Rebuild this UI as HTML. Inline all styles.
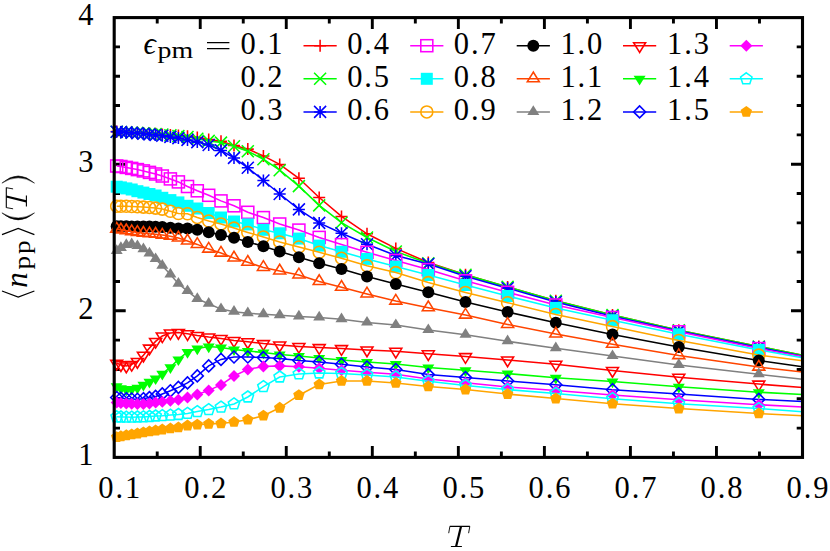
<!DOCTYPE html>
<html><head><meta charset="utf-8"><title>chart</title>
<style>html,body{margin:0;padding:0;background:#fff;}body{width:830px;height:551px;overflow:hidden;position:relative;font-family:"Liberation Serif",serif;}</style>
</head><body>
<svg width="830" height="551" viewBox="0 0 830 551" style="position:absolute;left:0;top:0;font-family:'Liberation Serif',serif">
<rect width="830" height="551" fill="#fff"/>
<defs><clipPath id="cp"><rect x="114.2" y="17.6" width="688.3" height="439.79999999999995"/></clipPath></defs>
<path d="M157.22 457.4v-5.8M157.22 17.6v5.8M200.24 457.4v-11.5M200.24 17.6v11.5M243.26 457.4v-5.8M243.26 17.6v5.8M286.27 457.4v-11.5M286.27 17.6v11.5M329.29 457.4v-5.8M329.29 17.6v5.8M372.31 457.4v-11.5M372.31 17.6v11.5M415.33 457.4v-5.8M415.33 17.6v5.8M458.35 457.4v-11.5M458.35 17.6v11.5M501.37 457.4v-5.8M501.37 17.6v5.8M544.39 457.4v-11.5M544.39 17.6v11.5M587.41 457.4v-5.8M587.41 17.6v5.8M630.42 457.4v-11.5M630.42 17.6v11.5M673.44 457.4v-5.8M673.44 17.6v5.8M716.46 457.4v-11.5M716.46 17.6v11.5M759.48 457.4v-5.8M759.48 17.6v5.8M114.2 428.08h5.8M802.5 428.08h-5.8M114.2 398.76h5.8M802.5 398.76h-5.8M114.2 369.44h5.8M802.5 369.44h-5.8M114.2 340.12h5.8M802.5 340.12h-5.8M114.2 310.8h11.5M802.5 310.8h-11.5M114.2 281.48h5.8M802.5 281.48h-5.8M114.2 252.16h5.8M802.5 252.16h-5.8M114.2 222.84h5.8M802.5 222.84h-5.8M114.2 193.52h5.8M802.5 193.52h-5.8M114.2 164.2h11.5M802.5 164.2h-11.5M114.2 134.88h5.8M802.5 134.88h-5.8M114.2 105.56h5.8M802.5 105.56h-5.8M114.2 76.24h5.8M802.5 76.24h-5.8M114.2 46.92h5.8M802.5 46.92h-5.8" stroke="#000" stroke-width="2.9" fill="none"/>
<g><polyline points="116.7,131.6 120.9,131.9 126.3,132.2 131.7,132.5 137.4,132.8 143.4,133.1 149.45,133.4 155.6,133.7 162.3,134.4 170.4,135 178.4,135.5 187.5,136.2 197.3,137.4 208.7,139.4 221,141.3 234,145.4 247.8,149.1 263.4,155.9 279.7,164.4 298.9,178.3 319.2,197.5 341.5,216.4 367,233.8 395.8,248.4 428.3,262.5 465.5,274.8 507.6,286.9 555.8,300.7 612.5,315 678.8,330.2 758.8,346.5 802.5,355.3" fill="none" stroke="#ff0000" stroke-width="1.55" clip-path="url(#cp)"/>
<path d="M110.7 131.6H122.7M116.7 125.6V137.6" stroke="#ff0000" stroke-width="1.55" fill="none"/>
<path d="M114.9 131.9H126.9M120.9 125.9V137.9" stroke="#ff0000" stroke-width="1.55" fill="none"/>
<path d="M120.3 132.2H132.3M126.3 126.2V138.2" stroke="#ff0000" stroke-width="1.55" fill="none"/>
<path d="M125.7 132.5H137.7M131.7 126.5V138.5" stroke="#ff0000" stroke-width="1.55" fill="none"/>
<path d="M131.4 132.8H143.4M137.4 126.8V138.8" stroke="#ff0000" stroke-width="1.55" fill="none"/>
<path d="M137.4 133.1H149.4M143.4 127.1V139.1" stroke="#ff0000" stroke-width="1.55" fill="none"/>
<path d="M143.45 133.4H155.45M149.45 127.4V139.4" stroke="#ff0000" stroke-width="1.55" fill="none"/>
<path d="M149.6 133.7H161.6M155.6 127.7V139.7" stroke="#ff0000" stroke-width="1.55" fill="none"/>
<path d="M156.3 134.4H168.3M162.3 128.4V140.4" stroke="#ff0000" stroke-width="1.55" fill="none"/>
<path d="M164.4 135H176.4M170.4 129V141" stroke="#ff0000" stroke-width="1.55" fill="none"/>
<path d="M172.4 135.5H184.4M178.4 129.5V141.5" stroke="#ff0000" stroke-width="1.55" fill="none"/>
<path d="M181.5 136.2H193.5M187.5 130.2V142.2" stroke="#ff0000" stroke-width="1.55" fill="none"/>
<path d="M191.3 137.4H203.3M197.3 131.4V143.4" stroke="#ff0000" stroke-width="1.55" fill="none"/>
<path d="M202.7 139.4H214.7M208.7 133.4V145.4" stroke="#ff0000" stroke-width="1.55" fill="none"/>
<path d="M215 141.3H227M221 135.3V147.3" stroke="#ff0000" stroke-width="1.55" fill="none"/>
<path d="M228 145.4H240M234 139.4V151.4" stroke="#ff0000" stroke-width="1.55" fill="none"/>
<path d="M241.8 149.1H253.8M247.8 143.1V155.1" stroke="#ff0000" stroke-width="1.55" fill="none"/>
<path d="M257.4 155.9H269.4M263.4 149.9V161.9" stroke="#ff0000" stroke-width="1.55" fill="none"/>
<path d="M273.7 164.4H285.7M279.7 158.4V170.4" stroke="#ff0000" stroke-width="1.55" fill="none"/>
<path d="M292.9 178.3H304.9M298.9 172.3V184.3" stroke="#ff0000" stroke-width="1.55" fill="none"/>
<path d="M313.2 197.5H325.2M319.2 191.5V203.5" stroke="#ff0000" stroke-width="1.55" fill="none"/>
<path d="M335.5 216.4H347.5M341.5 210.4V222.4" stroke="#ff0000" stroke-width="1.55" fill="none"/>
<path d="M361 233.8H373M367 227.8V239.8" stroke="#ff0000" stroke-width="1.55" fill="none"/>
<path d="M389.8 248.4H401.8M395.8 242.4V254.4" stroke="#ff0000" stroke-width="1.55" fill="none"/>
<path d="M422.3 262.5H434.3M428.3 256.5V268.5" stroke="#ff0000" stroke-width="1.55" fill="none"/>
<path d="M459.5 274.8H471.5M465.5 268.8V280.8" stroke="#ff0000" stroke-width="1.55" fill="none"/>
<path d="M501.6 286.9H513.6M507.6 280.9V292.9" stroke="#ff0000" stroke-width="1.55" fill="none"/>
<path d="M549.8 300.7H561.8M555.8 294.7V306.7" stroke="#ff0000" stroke-width="1.55" fill="none"/>
<path d="M606.5 315H618.5M612.5 309V321" stroke="#ff0000" stroke-width="1.55" fill="none"/>
<path d="M672.8 330.2H684.8M678.8 324.2V336.2" stroke="#ff0000" stroke-width="1.55" fill="none"/>
<path d="M752.8 346.5H764.8M758.8 340.5V352.5" stroke="#ff0000" stroke-width="1.55" fill="none"/>
</g>
<g><polyline points="116.7,131.7 120.9,132 126.3,132.3 131.7,132.6 137.4,132.9 143.4,133.3 149.45,133.7 155.6,134 162.3,134.5 170.4,135.3 178.4,136.1 187.5,137 197.3,138.8 208.7,140.9 221,142.6 234,146.2 247.8,151.3 263.4,159.2 279.7,170.2 298.9,186.1 319.2,205.4 341.5,222.7 367,237.5 395.8,251.5 428.3,263.3 465.5,274.8 507.6,286.9 555.8,300.7 612.5,315 678.8,330.2 758.8,346.5 802.5,355.3" fill="none" stroke="#00ff00" stroke-width="1.55" clip-path="url(#cp)"/>
<path d="M110.7 125.7L122.7 137.7M110.7 137.7L122.7 125.7" stroke="#00ff00" stroke-width="1.55" fill="none"/>
<path d="M114.9 126L126.9 138M114.9 138L126.9 126" stroke="#00ff00" stroke-width="1.55" fill="none"/>
<path d="M120.3 126.3L132.3 138.3M120.3 138.3L132.3 126.3" stroke="#00ff00" stroke-width="1.55" fill="none"/>
<path d="M125.7 126.6L137.7 138.6M125.7 138.6L137.7 126.6" stroke="#00ff00" stroke-width="1.55" fill="none"/>
<path d="M131.4 126.9L143.4 138.9M131.4 138.9L143.4 126.9" stroke="#00ff00" stroke-width="1.55" fill="none"/>
<path d="M137.4 127.3L149.4 139.3M137.4 139.3L149.4 127.3" stroke="#00ff00" stroke-width="1.55" fill="none"/>
<path d="M143.45 127.7L155.45 139.7M143.45 139.7L155.45 127.7" stroke="#00ff00" stroke-width="1.55" fill="none"/>
<path d="M149.6 128L161.6 140M149.6 140L161.6 128" stroke="#00ff00" stroke-width="1.55" fill="none"/>
<path d="M156.3 128.5L168.3 140.5M156.3 140.5L168.3 128.5" stroke="#00ff00" stroke-width="1.55" fill="none"/>
<path d="M164.4 129.3L176.4 141.3M164.4 141.3L176.4 129.3" stroke="#00ff00" stroke-width="1.55" fill="none"/>
<path d="M172.4 130.1L184.4 142.1M172.4 142.1L184.4 130.1" stroke="#00ff00" stroke-width="1.55" fill="none"/>
<path d="M181.5 131L193.5 143M181.5 143L193.5 131" stroke="#00ff00" stroke-width="1.55" fill="none"/>
<path d="M191.3 132.8L203.3 144.8M191.3 144.8L203.3 132.8" stroke="#00ff00" stroke-width="1.55" fill="none"/>
<path d="M202.7 134.9L214.7 146.9M202.7 146.9L214.7 134.9" stroke="#00ff00" stroke-width="1.55" fill="none"/>
<path d="M215 136.6L227 148.6M215 148.6L227 136.6" stroke="#00ff00" stroke-width="1.55" fill="none"/>
<path d="M228 140.2L240 152.2M228 152.2L240 140.2" stroke="#00ff00" stroke-width="1.55" fill="none"/>
<path d="M241.8 145.3L253.8 157.3M241.8 157.3L253.8 145.3" stroke="#00ff00" stroke-width="1.55" fill="none"/>
<path d="M257.4 153.2L269.4 165.2M257.4 165.2L269.4 153.2" stroke="#00ff00" stroke-width="1.55" fill="none"/>
<path d="M273.7 164.2L285.7 176.2M273.7 176.2L285.7 164.2" stroke="#00ff00" stroke-width="1.55" fill="none"/>
<path d="M292.9 180.1L304.9 192.1M292.9 192.1L304.9 180.1" stroke="#00ff00" stroke-width="1.55" fill="none"/>
<path d="M313.2 199.4L325.2 211.4M313.2 211.4L325.2 199.4" stroke="#00ff00" stroke-width="1.55" fill="none"/>
<path d="M335.5 216.7L347.5 228.7M335.5 228.7L347.5 216.7" stroke="#00ff00" stroke-width="1.55" fill="none"/>
<path d="M361 231.5L373 243.5M361 243.5L373 231.5" stroke="#00ff00" stroke-width="1.55" fill="none"/>
<path d="M389.8 245.5L401.8 257.5M389.8 257.5L401.8 245.5" stroke="#00ff00" stroke-width="1.55" fill="none"/>
<path d="M422.3 257.3L434.3 269.3M422.3 269.3L434.3 257.3" stroke="#00ff00" stroke-width="1.55" fill="none"/>
<path d="M459.5 268.8L471.5 280.8M459.5 280.8L471.5 268.8" stroke="#00ff00" stroke-width="1.55" fill="none"/>
<path d="M501.6 280.9L513.6 292.9M501.6 292.9L513.6 280.9" stroke="#00ff00" stroke-width="1.55" fill="none"/>
<path d="M549.8 294.7L561.8 306.7M549.8 306.7L561.8 294.7" stroke="#00ff00" stroke-width="1.55" fill="none"/>
<path d="M606.5 309L618.5 321M606.5 321L618.5 309" stroke="#00ff00" stroke-width="1.55" fill="none"/>
<path d="M672.8 324.2L684.8 336.2M672.8 336.2L684.8 324.2" stroke="#00ff00" stroke-width="1.55" fill="none"/>
<path d="M752.8 340.5L764.8 352.5M752.8 352.5L764.8 340.5" stroke="#00ff00" stroke-width="1.55" fill="none"/>
</g>
<g><polyline points="116.7,131.8 120.9,132 126.3,132.4 131.7,132.8 137.4,133.3 143.4,133.8 149.45,134.4 155.6,135 162.3,135.8 170.4,136.9 178.4,138.1 187.5,139.9 197.3,142.1 208.7,145 221,150.4 234,157.9 247.8,167.8 263.4,180.5 279.7,194 298.9,209.4 319.2,222.9 341.5,233.3 367,244.2 395.8,255.5 428.3,264 465.5,276.2 507.6,288.2 555.8,302 612.5,316.2 678.8,331.1 758.8,347.4 802.5,356.2" fill="none" stroke="#0000ff" stroke-width="1.55" clip-path="url(#cp)"/>
<path d="M110.7 131.8H122.7M116.7 125.8V137.8M110.7 125.8L122.7 137.8M110.7 137.8L122.7 125.8" stroke="#0000ff" stroke-width="1.55" fill="none"/>
<path d="M114.9 132H126.9M120.9 126V138M114.9 126L126.9 138M114.9 138L126.9 126" stroke="#0000ff" stroke-width="1.55" fill="none"/>
<path d="M120.3 132.4H132.3M126.3 126.4V138.4M120.3 126.4L132.3 138.4M120.3 138.4L132.3 126.4" stroke="#0000ff" stroke-width="1.55" fill="none"/>
<path d="M125.7 132.8H137.7M131.7 126.8V138.8M125.7 126.8L137.7 138.8M125.7 138.8L137.7 126.8" stroke="#0000ff" stroke-width="1.55" fill="none"/>
<path d="M131.4 133.3H143.4M137.4 127.3V139.3M131.4 127.3L143.4 139.3M131.4 139.3L143.4 127.3" stroke="#0000ff" stroke-width="1.55" fill="none"/>
<path d="M137.4 133.8H149.4M143.4 127.8V139.8M137.4 127.8L149.4 139.8M137.4 139.8L149.4 127.8" stroke="#0000ff" stroke-width="1.55" fill="none"/>
<path d="M143.45 134.4H155.45M149.45 128.4V140.4M143.45 128.4L155.45 140.4M143.45 140.4L155.45 128.4" stroke="#0000ff" stroke-width="1.55" fill="none"/>
<path d="M149.6 135H161.6M155.6 129V141M149.6 129L161.6 141M149.6 141L161.6 129" stroke="#0000ff" stroke-width="1.55" fill="none"/>
<path d="M156.3 135.8H168.3M162.3 129.8V141.8M156.3 129.8L168.3 141.8M156.3 141.8L168.3 129.8" stroke="#0000ff" stroke-width="1.55" fill="none"/>
<path d="M164.4 136.9H176.4M170.4 130.9V142.9M164.4 130.9L176.4 142.9M164.4 142.9L176.4 130.9" stroke="#0000ff" stroke-width="1.55" fill="none"/>
<path d="M172.4 138.1H184.4M178.4 132.1V144.1M172.4 132.1L184.4 144.1M172.4 144.1L184.4 132.1" stroke="#0000ff" stroke-width="1.55" fill="none"/>
<path d="M181.5 139.9H193.5M187.5 133.9V145.9M181.5 133.9L193.5 145.9M181.5 145.9L193.5 133.9" stroke="#0000ff" stroke-width="1.55" fill="none"/>
<path d="M191.3 142.1H203.3M197.3 136.1V148.1M191.3 136.1L203.3 148.1M191.3 148.1L203.3 136.1" stroke="#0000ff" stroke-width="1.55" fill="none"/>
<path d="M202.7 145H214.7M208.7 139V151M202.7 139L214.7 151M202.7 151L214.7 139" stroke="#0000ff" stroke-width="1.55" fill="none"/>
<path d="M215 150.4H227M221 144.4V156.4M215 144.4L227 156.4M215 156.4L227 144.4" stroke="#0000ff" stroke-width="1.55" fill="none"/>
<path d="M228 157.9H240M234 151.9V163.9M228 151.9L240 163.9M228 163.9L240 151.9" stroke="#0000ff" stroke-width="1.55" fill="none"/>
<path d="M241.8 167.8H253.8M247.8 161.8V173.8M241.8 161.8L253.8 173.8M241.8 173.8L253.8 161.8" stroke="#0000ff" stroke-width="1.55" fill="none"/>
<path d="M257.4 180.5H269.4M263.4 174.5V186.5M257.4 174.5L269.4 186.5M257.4 186.5L269.4 174.5" stroke="#0000ff" stroke-width="1.55" fill="none"/>
<path d="M273.7 194H285.7M279.7 188V200M273.7 188L285.7 200M273.7 200L285.7 188" stroke="#0000ff" stroke-width="1.55" fill="none"/>
<path d="M292.9 209.4H304.9M298.9 203.4V215.4M292.9 203.4L304.9 215.4M292.9 215.4L304.9 203.4" stroke="#0000ff" stroke-width="1.55" fill="none"/>
<path d="M313.2 222.9H325.2M319.2 216.9V228.9M313.2 216.9L325.2 228.9M313.2 228.9L325.2 216.9" stroke="#0000ff" stroke-width="1.55" fill="none"/>
<path d="M335.5 233.3H347.5M341.5 227.3V239.3M335.5 227.3L347.5 239.3M335.5 239.3L347.5 227.3" stroke="#0000ff" stroke-width="1.55" fill="none"/>
<path d="M361 244.2H373M367 238.2V250.2M361 238.2L373 250.2M361 250.2L373 238.2" stroke="#0000ff" stroke-width="1.55" fill="none"/>
<path d="M389.8 255.5H401.8M395.8 249.5V261.5M389.8 249.5L401.8 261.5M389.8 261.5L401.8 249.5" stroke="#0000ff" stroke-width="1.55" fill="none"/>
<path d="M422.3 264H434.3M428.3 258V270M422.3 258L434.3 270M422.3 270L434.3 258" stroke="#0000ff" stroke-width="1.55" fill="none"/>
<path d="M459.5 276.2H471.5M465.5 270.2V282.2M459.5 270.2L471.5 282.2M459.5 282.2L471.5 270.2" stroke="#0000ff" stroke-width="1.55" fill="none"/>
<path d="M501.6 288.2H513.6M507.6 282.2V294.2M501.6 282.2L513.6 294.2M501.6 294.2L513.6 282.2" stroke="#0000ff" stroke-width="1.55" fill="none"/>
<path d="M549.8 302H561.8M555.8 296V308M549.8 296L561.8 308M549.8 308L561.8 296" stroke="#0000ff" stroke-width="1.55" fill="none"/>
<path d="M606.5 316.2H618.5M612.5 310.2V322.2M606.5 310.2L618.5 322.2M606.5 322.2L618.5 310.2" stroke="#0000ff" stroke-width="1.55" fill="none"/>
<path d="M672.8 331.1H684.8M678.8 325.1V337.1M672.8 325.1L684.8 337.1M672.8 337.1L684.8 325.1" stroke="#0000ff" stroke-width="1.55" fill="none"/>
<path d="M752.8 347.4H764.8M758.8 341.4V353.4M752.8 341.4L764.8 353.4M752.8 353.4L764.8 341.4" stroke="#0000ff" stroke-width="1.55" fill="none"/>
</g>
<g><polyline points="116.7,166 120.9,166.5 126.3,167.4 131.7,168.4 137.4,169.6 143.4,170.9 149.45,172.4 155.6,174 162.3,176 170.4,178.9 178.4,181.9 187.5,186.5 197.3,190.8 208.7,195.3 221,200.9 234,205.8 247.8,212.3 263.4,217.6 279.7,224 298.9,230.1 319.2,237.4 341.5,244.6 367,252.3 395.8,260.5 428.3,269.6 465.5,280.8 507.6,292.3 555.8,305 612.5,317.5 678.8,331.8 758.8,348.6 802.5,356.6" fill="none" stroke="#ff00ff" stroke-width="1.55" clip-path="url(#cp)"/>
<rect x="110.7" y="160" width="12" height="12" fill="none" stroke="#ff00ff" stroke-width="1.55"/>
<rect x="114.9" y="160.5" width="12" height="12" fill="none" stroke="#ff00ff" stroke-width="1.55"/>
<rect x="120.3" y="161.4" width="12" height="12" fill="none" stroke="#ff00ff" stroke-width="1.55"/>
<rect x="125.7" y="162.4" width="12" height="12" fill="none" stroke="#ff00ff" stroke-width="1.55"/>
<rect x="131.4" y="163.6" width="12" height="12" fill="none" stroke="#ff00ff" stroke-width="1.55"/>
<rect x="137.4" y="164.9" width="12" height="12" fill="none" stroke="#ff00ff" stroke-width="1.55"/>
<rect x="143.45" y="166.4" width="12" height="12" fill="none" stroke="#ff00ff" stroke-width="1.55"/>
<rect x="149.6" y="168" width="12" height="12" fill="none" stroke="#ff00ff" stroke-width="1.55"/>
<rect x="156.3" y="170" width="12" height="12" fill="none" stroke="#ff00ff" stroke-width="1.55"/>
<rect x="164.4" y="172.9" width="12" height="12" fill="none" stroke="#ff00ff" stroke-width="1.55"/>
<rect x="172.4" y="175.9" width="12" height="12" fill="none" stroke="#ff00ff" stroke-width="1.55"/>
<rect x="181.5" y="180.5" width="12" height="12" fill="none" stroke="#ff00ff" stroke-width="1.55"/>
<rect x="191.3" y="184.8" width="12" height="12" fill="none" stroke="#ff00ff" stroke-width="1.55"/>
<rect x="202.7" y="189.3" width="12" height="12" fill="none" stroke="#ff00ff" stroke-width="1.55"/>
<rect x="215" y="194.9" width="12" height="12" fill="none" stroke="#ff00ff" stroke-width="1.55"/>
<rect x="228" y="199.8" width="12" height="12" fill="none" stroke="#ff00ff" stroke-width="1.55"/>
<rect x="241.8" y="206.3" width="12" height="12" fill="none" stroke="#ff00ff" stroke-width="1.55"/>
<rect x="257.4" y="211.6" width="12" height="12" fill="none" stroke="#ff00ff" stroke-width="1.55"/>
<rect x="273.7" y="218" width="12" height="12" fill="none" stroke="#ff00ff" stroke-width="1.55"/>
<rect x="292.9" y="224.1" width="12" height="12" fill="none" stroke="#ff00ff" stroke-width="1.55"/>
<rect x="313.2" y="231.4" width="12" height="12" fill="none" stroke="#ff00ff" stroke-width="1.55"/>
<rect x="335.5" y="238.6" width="12" height="12" fill="none" stroke="#ff00ff" stroke-width="1.55"/>
<rect x="361" y="246.3" width="12" height="12" fill="none" stroke="#ff00ff" stroke-width="1.55"/>
<rect x="389.8" y="254.5" width="12" height="12" fill="none" stroke="#ff00ff" stroke-width="1.55"/>
<rect x="422.3" y="263.6" width="12" height="12" fill="none" stroke="#ff00ff" stroke-width="1.55"/>
<rect x="459.5" y="274.8" width="12" height="12" fill="none" stroke="#ff00ff" stroke-width="1.55"/>
<rect x="501.6" y="286.3" width="12" height="12" fill="none" stroke="#ff00ff" stroke-width="1.55"/>
<rect x="549.8" y="299" width="12" height="12" fill="none" stroke="#ff00ff" stroke-width="1.55"/>
<rect x="606.5" y="311.5" width="12" height="12" fill="none" stroke="#ff00ff" stroke-width="1.55"/>
<rect x="672.8" y="325.8" width="12" height="12" fill="none" stroke="#ff00ff" stroke-width="1.55"/>
<rect x="752.8" y="342.6" width="12" height="12" fill="none" stroke="#ff00ff" stroke-width="1.55"/>
</g>
<g><polyline points="116.7,186.7 120.9,187.4 126.3,188.4 131.7,189.5 137.4,191.2 143.4,192.6 149.45,194 155.6,195.5 162.3,197.8 170.4,200.1 178.4,202.4 187.5,205.8 197.3,208.5 208.7,213 221,217.5 234,221.5 247.8,224.4 263.4,229.8 279.7,233.3 298.9,238.6 319.2,245.6 341.5,251.8 367,258.9 395.8,266.6 428.3,275 465.5,285 507.6,296 555.8,307.9 612.5,320.2 678.8,334.3 758.8,350 802.5,357.8" fill="none" stroke="#00ffff" stroke-width="1.55" clip-path="url(#cp)"/>
<rect x="110.7" y="180.7" width="12" height="12" fill="#00ffff" />
<rect x="114.9" y="181.4" width="12" height="12" fill="#00ffff" />
<rect x="120.3" y="182.4" width="12" height="12" fill="#00ffff" />
<rect x="125.7" y="183.5" width="12" height="12" fill="#00ffff" />
<rect x="131.4" y="185.2" width="12" height="12" fill="#00ffff" />
<rect x="137.4" y="186.6" width="12" height="12" fill="#00ffff" />
<rect x="143.45" y="188" width="12" height="12" fill="#00ffff" />
<rect x="149.6" y="189.5" width="12" height="12" fill="#00ffff" />
<rect x="156.3" y="191.8" width="12" height="12" fill="#00ffff" />
<rect x="164.4" y="194.1" width="12" height="12" fill="#00ffff" />
<rect x="172.4" y="196.4" width="12" height="12" fill="#00ffff" />
<rect x="181.5" y="199.8" width="12" height="12" fill="#00ffff" />
<rect x="191.3" y="202.5" width="12" height="12" fill="#00ffff" />
<rect x="202.7" y="207" width="12" height="12" fill="#00ffff" />
<rect x="215" y="211.5" width="12" height="12" fill="#00ffff" />
<rect x="228" y="215.5" width="12" height="12" fill="#00ffff" />
<rect x="241.8" y="218.4" width="12" height="12" fill="#00ffff" />
<rect x="257.4" y="223.8" width="12" height="12" fill="#00ffff" />
<rect x="273.7" y="227.3" width="12" height="12" fill="#00ffff" />
<rect x="292.9" y="232.6" width="12" height="12" fill="#00ffff" />
<rect x="313.2" y="239.6" width="12" height="12" fill="#00ffff" />
<rect x="335.5" y="245.8" width="12" height="12" fill="#00ffff" />
<rect x="361" y="252.9" width="12" height="12" fill="#00ffff" />
<rect x="389.8" y="260.6" width="12" height="12" fill="#00ffff" />
<rect x="422.3" y="269" width="12" height="12" fill="#00ffff" />
<rect x="459.5" y="279" width="12" height="12" fill="#00ffff" />
<rect x="501.6" y="290" width="12" height="12" fill="#00ffff" />
<rect x="549.8" y="301.9" width="12" height="12" fill="#00ffff" />
<rect x="606.5" y="314.2" width="12" height="12" fill="#00ffff" />
<rect x="672.8" y="328.3" width="12" height="12" fill="#00ffff" />
<rect x="752.8" y="344" width="12" height="12" fill="#00ffff" />
</g>
<g><polyline points="116.7,206.2 120.9,206.2 126.3,206.3 131.7,206.5 137.4,206.8 143.4,207.1 149.45,207.4 155.6,208.1 162.3,209.1 170.4,211.3 178.4,213.5 187.5,213.7 197.3,217.4 208.7,221 221,223.9 234,228.1 247.8,232.4 263.4,236.9 279.7,241.9 298.9,247 319.2,252.3 341.5,258.3 367,265.8 395.8,272.6 428.3,282.6 465.5,292.4 507.6,302.7 555.8,314.4 612.5,326.6 678.8,340.4 758.8,355.1 802.5,360.8" fill="none" stroke="#ffa500" stroke-width="1.55" clip-path="url(#cp)"/>
<circle cx="116.7" cy="206.2" r="6" fill="none" stroke="#ffa500" stroke-width="1.55"/>
<circle cx="120.9" cy="206.2" r="6" fill="none" stroke="#ffa500" stroke-width="1.55"/>
<circle cx="126.3" cy="206.3" r="6" fill="none" stroke="#ffa500" stroke-width="1.55"/>
<circle cx="131.7" cy="206.5" r="6" fill="none" stroke="#ffa500" stroke-width="1.55"/>
<circle cx="137.4" cy="206.8" r="6" fill="none" stroke="#ffa500" stroke-width="1.55"/>
<circle cx="143.4" cy="207.1" r="6" fill="none" stroke="#ffa500" stroke-width="1.55"/>
<circle cx="149.45" cy="207.4" r="6" fill="none" stroke="#ffa500" stroke-width="1.55"/>
<circle cx="155.6" cy="208.1" r="6" fill="none" stroke="#ffa500" stroke-width="1.55"/>
<circle cx="162.3" cy="209.1" r="6" fill="none" stroke="#ffa500" stroke-width="1.55"/>
<circle cx="170.4" cy="211.3" r="6" fill="none" stroke="#ffa500" stroke-width="1.55"/>
<circle cx="178.4" cy="213.5" r="6" fill="none" stroke="#ffa500" stroke-width="1.55"/>
<circle cx="187.5" cy="213.7" r="6" fill="none" stroke="#ffa500" stroke-width="1.55"/>
<circle cx="197.3" cy="217.4" r="6" fill="none" stroke="#ffa500" stroke-width="1.55"/>
<circle cx="208.7" cy="221" r="6" fill="none" stroke="#ffa500" stroke-width="1.55"/>
<circle cx="221" cy="223.9" r="6" fill="none" stroke="#ffa500" stroke-width="1.55"/>
<circle cx="234" cy="228.1" r="6" fill="none" stroke="#ffa500" stroke-width="1.55"/>
<circle cx="247.8" cy="232.4" r="6" fill="none" stroke="#ffa500" stroke-width="1.55"/>
<circle cx="263.4" cy="236.9" r="6" fill="none" stroke="#ffa500" stroke-width="1.55"/>
<circle cx="279.7" cy="241.9" r="6" fill="none" stroke="#ffa500" stroke-width="1.55"/>
<circle cx="298.9" cy="247" r="6" fill="none" stroke="#ffa500" stroke-width="1.55"/>
<circle cx="319.2" cy="252.3" r="6" fill="none" stroke="#ffa500" stroke-width="1.55"/>
<circle cx="341.5" cy="258.3" r="6" fill="none" stroke="#ffa500" stroke-width="1.55"/>
<circle cx="367" cy="265.8" r="6" fill="none" stroke="#ffa500" stroke-width="1.55"/>
<circle cx="395.8" cy="272.6" r="6" fill="none" stroke="#ffa500" stroke-width="1.55"/>
<circle cx="428.3" cy="282.6" r="6" fill="none" stroke="#ffa500" stroke-width="1.55"/>
<circle cx="465.5" cy="292.4" r="6" fill="none" stroke="#ffa500" stroke-width="1.55"/>
<circle cx="507.6" cy="302.7" r="6" fill="none" stroke="#ffa500" stroke-width="1.55"/>
<circle cx="555.8" cy="314.4" r="6" fill="none" stroke="#ffa500" stroke-width="1.55"/>
<circle cx="612.5" cy="326.6" r="6" fill="none" stroke="#ffa500" stroke-width="1.55"/>
<circle cx="678.8" cy="340.4" r="6" fill="none" stroke="#ffa500" stroke-width="1.55"/>
<circle cx="758.8" cy="355.1" r="6" fill="none" stroke="#ffa500" stroke-width="1.55"/>
</g>
<g><polyline points="116.7,226.2 120.9,226.2 126.3,226.3 131.7,226.4 137.4,226.5 143.4,226.4 149.45,226.5 155.6,226.8 162.3,227 170.4,227.8 178.4,228.6 187.5,228.4 197.3,229.7 208.7,232.3 221,235 234,237.8 247.8,241.9 263.4,246.3 279.7,251.5 298.9,257.2 319.2,263.2 341.5,269 367,276.5 395.8,284 428.3,292.3 465.5,302 507.6,312 555.8,322.7 612.5,334.6 678.8,347.1 758.8,360.6 802.5,366.7" fill="none" stroke="#000000" stroke-width="1.55" clip-path="url(#cp)"/>
<circle cx="116.7" cy="226.2" r="6" fill="#000000" />
<circle cx="120.9" cy="226.2" r="6" fill="#000000" />
<circle cx="126.3" cy="226.3" r="6" fill="#000000" />
<circle cx="131.7" cy="226.4" r="6" fill="#000000" />
<circle cx="137.4" cy="226.5" r="6" fill="#000000" />
<circle cx="143.4" cy="226.4" r="6" fill="#000000" />
<circle cx="149.45" cy="226.5" r="6" fill="#000000" />
<circle cx="155.6" cy="226.8" r="6" fill="#000000" />
<circle cx="162.3" cy="227" r="6" fill="#000000" />
<circle cx="170.4" cy="227.8" r="6" fill="#000000" />
<circle cx="178.4" cy="228.6" r="6" fill="#000000" />
<circle cx="187.5" cy="228.4" r="6" fill="#000000" />
<circle cx="197.3" cy="229.7" r="6" fill="#000000" />
<circle cx="208.7" cy="232.3" r="6" fill="#000000" />
<circle cx="221" cy="235" r="6" fill="#000000" />
<circle cx="234" cy="237.8" r="6" fill="#000000" />
<circle cx="247.8" cy="241.9" r="6" fill="#000000" />
<circle cx="263.4" cy="246.3" r="6" fill="#000000" />
<circle cx="279.7" cy="251.5" r="6" fill="#000000" />
<circle cx="298.9" cy="257.2" r="6" fill="#000000" />
<circle cx="319.2" cy="263.2" r="6" fill="#000000" />
<circle cx="341.5" cy="269" r="6" fill="#000000" />
<circle cx="367" cy="276.5" r="6" fill="#000000" />
<circle cx="395.8" cy="284" r="6" fill="#000000" />
<circle cx="428.3" cy="292.3" r="6" fill="#000000" />
<circle cx="465.5" cy="302" r="6" fill="#000000" />
<circle cx="507.6" cy="312" r="6" fill="#000000" />
<circle cx="555.8" cy="322.7" r="6" fill="#000000" />
<circle cx="612.5" cy="334.6" r="6" fill="#000000" />
<circle cx="678.8" cy="347.1" r="6" fill="#000000" />
<circle cx="758.8" cy="360.6" r="6" fill="#000000" />
</g>
<g><polyline points="116.7,229.1 120.9,230 126.3,230.7 131.7,231.6 137.4,232.4 143.4,233.2 149.45,233.8 155.6,234.2 162.3,235.1 170.4,236.2 178.4,238 187.5,241 197.3,244.4 208.7,249.1 221,253.1 234,258 247.8,262.3 263.4,267.4 279.7,271 298.9,274.9 319.2,281.5 341.5,287.3 367,293.9 395.8,301.1 428.3,307.7 465.5,315.1 507.6,324.4 555.8,334 612.5,344.3 678.8,355.6 758.8,367.1 802.5,372" fill="none" stroke="#ff4500" stroke-width="1.55" clip-path="url(#cp)"/>
<polygon points="116.7,222.38 110.7,232.1 122.7,232.1" fill="none" stroke="#ff4500" stroke-width="1.55"/>
<polygon points="120.9,223.28 114.9,233 126.9,233" fill="none" stroke="#ff4500" stroke-width="1.55"/>
<polygon points="126.3,223.98 120.3,233.7 132.3,233.7" fill="none" stroke="#ff4500" stroke-width="1.55"/>
<polygon points="131.7,224.88 125.7,234.6 137.7,234.6" fill="none" stroke="#ff4500" stroke-width="1.55"/>
<polygon points="137.4,225.68 131.4,235.4 143.4,235.4" fill="none" stroke="#ff4500" stroke-width="1.55"/>
<polygon points="143.4,226.48 137.4,236.2 149.4,236.2" fill="none" stroke="#ff4500" stroke-width="1.55"/>
<polygon points="149.45,227.08 143.45,236.8 155.45,236.8" fill="none" stroke="#ff4500" stroke-width="1.55"/>
<polygon points="155.6,227.48 149.6,237.2 161.6,237.2" fill="none" stroke="#ff4500" stroke-width="1.55"/>
<polygon points="162.3,228.38 156.3,238.1 168.3,238.1" fill="none" stroke="#ff4500" stroke-width="1.55"/>
<polygon points="170.4,229.48 164.4,239.2 176.4,239.2" fill="none" stroke="#ff4500" stroke-width="1.55"/>
<polygon points="178.4,231.28 172.4,241 184.4,241" fill="none" stroke="#ff4500" stroke-width="1.55"/>
<polygon points="187.5,234.28 181.5,244 193.5,244" fill="none" stroke="#ff4500" stroke-width="1.55"/>
<polygon points="197.3,237.68 191.3,247.4 203.3,247.4" fill="none" stroke="#ff4500" stroke-width="1.55"/>
<polygon points="208.7,242.38 202.7,252.1 214.7,252.1" fill="none" stroke="#ff4500" stroke-width="1.55"/>
<polygon points="221,246.38 215,256.1 227,256.1" fill="none" stroke="#ff4500" stroke-width="1.55"/>
<polygon points="234,251.28 228,261 240,261" fill="none" stroke="#ff4500" stroke-width="1.55"/>
<polygon points="247.8,255.58 241.8,265.3 253.8,265.3" fill="none" stroke="#ff4500" stroke-width="1.55"/>
<polygon points="263.4,260.68 257.4,270.4 269.4,270.4" fill="none" stroke="#ff4500" stroke-width="1.55"/>
<polygon points="279.7,264.28 273.7,274 285.7,274" fill="none" stroke="#ff4500" stroke-width="1.55"/>
<polygon points="298.9,268.18 292.9,277.9 304.9,277.9" fill="none" stroke="#ff4500" stroke-width="1.55"/>
<polygon points="319.2,274.78 313.2,284.5 325.2,284.5" fill="none" stroke="#ff4500" stroke-width="1.55"/>
<polygon points="341.5,280.58 335.5,290.3 347.5,290.3" fill="none" stroke="#ff4500" stroke-width="1.55"/>
<polygon points="367,287.18 361,296.9 373,296.9" fill="none" stroke="#ff4500" stroke-width="1.55"/>
<polygon points="395.8,294.38 389.8,304.1 401.8,304.1" fill="none" stroke="#ff4500" stroke-width="1.55"/>
<polygon points="428.3,300.98 422.3,310.7 434.3,310.7" fill="none" stroke="#ff4500" stroke-width="1.55"/>
<polygon points="465.5,308.38 459.5,318.1 471.5,318.1" fill="none" stroke="#ff4500" stroke-width="1.55"/>
<polygon points="507.6,317.68 501.6,327.4 513.6,327.4" fill="none" stroke="#ff4500" stroke-width="1.55"/>
<polygon points="555.8,327.28 549.8,337 561.8,337" fill="none" stroke="#ff4500" stroke-width="1.55"/>
<polygon points="612.5,337.58 606.5,347.3 618.5,347.3" fill="none" stroke="#ff4500" stroke-width="1.55"/>
<polygon points="678.8,348.88 672.8,358.6 684.8,358.6" fill="none" stroke="#ff4500" stroke-width="1.55"/>
<polygon points="758.8,360.38 752.8,370.1 764.8,370.1" fill="none" stroke="#ff4500" stroke-width="1.55"/>
</g>
<g><polyline points="116.7,251 120.9,247.9 126.3,245 131.7,244.3 137.4,246.1 143.4,249.2 149.45,253.5 155.6,259.1 162.3,265.8 170.4,274.4 178.4,283.8 187.5,291.1 197.3,298.9 208.7,303.8 221,309.1 234,311.7 247.8,313.3 263.4,314.3 279.7,315.3 298.9,316.5 319.2,317.5 341.5,319.3 367,322.6 395.8,325.1 428.3,330.1 465.5,334.7 507.6,341.3 555.8,348.3 612.5,356.1 678.8,365 758.8,374.3 802.5,379.2" fill="none" stroke="#808080" stroke-width="1.55" clip-path="url(#cp)"/>
<polygon points="116.7,244.28 110.7,254 122.7,254" fill="#808080"/>
<polygon points="120.9,241.18 114.9,250.9 126.9,250.9" fill="#808080"/>
<polygon points="126.3,238.28 120.3,248 132.3,248" fill="#808080"/>
<polygon points="131.7,237.58 125.7,247.3 137.7,247.3" fill="#808080"/>
<polygon points="137.4,239.38 131.4,249.1 143.4,249.1" fill="#808080"/>
<polygon points="143.4,242.48 137.4,252.2 149.4,252.2" fill="#808080"/>
<polygon points="149.45,246.78 143.45,256.5 155.45,256.5" fill="#808080"/>
<polygon points="155.6,252.38 149.6,262.1 161.6,262.1" fill="#808080"/>
<polygon points="162.3,259.08 156.3,268.8 168.3,268.8" fill="#808080"/>
<polygon points="170.4,267.68 164.4,277.4 176.4,277.4" fill="#808080"/>
<polygon points="178.4,277.08 172.4,286.8 184.4,286.8" fill="#808080"/>
<polygon points="187.5,284.38 181.5,294.1 193.5,294.1" fill="#808080"/>
<polygon points="197.3,292.18 191.3,301.9 203.3,301.9" fill="#808080"/>
<polygon points="208.7,297.08 202.7,306.8 214.7,306.8" fill="#808080"/>
<polygon points="221,302.38 215,312.1 227,312.1" fill="#808080"/>
<polygon points="234,304.98 228,314.7 240,314.7" fill="#808080"/>
<polygon points="247.8,306.58 241.8,316.3 253.8,316.3" fill="#808080"/>
<polygon points="263.4,307.58 257.4,317.3 269.4,317.3" fill="#808080"/>
<polygon points="279.7,308.58 273.7,318.3 285.7,318.3" fill="#808080"/>
<polygon points="298.9,309.78 292.9,319.5 304.9,319.5" fill="#808080"/>
<polygon points="319.2,310.78 313.2,320.5 325.2,320.5" fill="#808080"/>
<polygon points="341.5,312.58 335.5,322.3 347.5,322.3" fill="#808080"/>
<polygon points="367,315.88 361,325.6 373,325.6" fill="#808080"/>
<polygon points="395.8,318.38 389.8,328.1 401.8,328.1" fill="#808080"/>
<polygon points="428.3,323.38 422.3,333.1 434.3,333.1" fill="#808080"/>
<polygon points="465.5,327.98 459.5,337.7 471.5,337.7" fill="#808080"/>
<polygon points="507.6,334.58 501.6,344.3 513.6,344.3" fill="#808080"/>
<polygon points="555.8,341.58 549.8,351.3 561.8,351.3" fill="#808080"/>
<polygon points="612.5,349.38 606.5,359.1 618.5,359.1" fill="#808080"/>
<polygon points="678.8,358.28 672.8,368 684.8,368" fill="#808080"/>
<polygon points="758.8,367.58 752.8,377.3 764.8,377.3" fill="#808080"/>
</g>
<g><polyline points="116.7,363.3 120.9,364.7 126.3,366 131.7,364.4 137.4,361.5 143.4,355.2 149.45,348.1 155.6,341.4 162.3,335.9 170.4,332.9 178.4,332.5 187.5,333.7 197.3,335.4 208.7,337 221,338.4 234,340.4 247.8,341.8 263.4,343.6 279.7,345 298.9,346.4 319.2,347.6 341.5,348.6 367,350 395.8,351.3 428.3,353.8 465.5,356.6 507.6,360 555.8,364.2 612.5,370.5 678.8,377.2 758.8,384.1 802.5,387.5" fill="none" stroke="#ff0000" stroke-width="1.55" clip-path="url(#cp)"/>
<polygon points="116.7,370.02 110.7,360.3 122.7,360.3" fill="none" stroke="#ff0000" stroke-width="1.55"/>
<polygon points="120.9,371.42 114.9,361.7 126.9,361.7" fill="none" stroke="#ff0000" stroke-width="1.55"/>
<polygon points="126.3,372.72 120.3,363 132.3,363" fill="none" stroke="#ff0000" stroke-width="1.55"/>
<polygon points="131.7,371.12 125.7,361.4 137.7,361.4" fill="none" stroke="#ff0000" stroke-width="1.55"/>
<polygon points="137.4,368.22 131.4,358.5 143.4,358.5" fill="none" stroke="#ff0000" stroke-width="1.55"/>
<polygon points="143.4,361.92 137.4,352.2 149.4,352.2" fill="none" stroke="#ff0000" stroke-width="1.55"/>
<polygon points="149.45,354.82 143.45,345.1 155.45,345.1" fill="none" stroke="#ff0000" stroke-width="1.55"/>
<polygon points="155.6,348.12 149.6,338.4 161.6,338.4" fill="none" stroke="#ff0000" stroke-width="1.55"/>
<polygon points="162.3,342.62 156.3,332.9 168.3,332.9" fill="none" stroke="#ff0000" stroke-width="1.55"/>
<polygon points="170.4,339.62 164.4,329.9 176.4,329.9" fill="none" stroke="#ff0000" stroke-width="1.55"/>
<polygon points="178.4,339.22 172.4,329.5 184.4,329.5" fill="none" stroke="#ff0000" stroke-width="1.55"/>
<polygon points="187.5,340.42 181.5,330.7 193.5,330.7" fill="none" stroke="#ff0000" stroke-width="1.55"/>
<polygon points="197.3,342.12 191.3,332.4 203.3,332.4" fill="none" stroke="#ff0000" stroke-width="1.55"/>
<polygon points="208.7,343.72 202.7,334 214.7,334" fill="none" stroke="#ff0000" stroke-width="1.55"/>
<polygon points="221,345.12 215,335.4 227,335.4" fill="none" stroke="#ff0000" stroke-width="1.55"/>
<polygon points="234,347.12 228,337.4 240,337.4" fill="none" stroke="#ff0000" stroke-width="1.55"/>
<polygon points="247.8,348.52 241.8,338.8 253.8,338.8" fill="none" stroke="#ff0000" stroke-width="1.55"/>
<polygon points="263.4,350.32 257.4,340.6 269.4,340.6" fill="none" stroke="#ff0000" stroke-width="1.55"/>
<polygon points="279.7,351.72 273.7,342 285.7,342" fill="none" stroke="#ff0000" stroke-width="1.55"/>
<polygon points="298.9,353.12 292.9,343.4 304.9,343.4" fill="none" stroke="#ff0000" stroke-width="1.55"/>
<polygon points="319.2,354.32 313.2,344.6 325.2,344.6" fill="none" stroke="#ff0000" stroke-width="1.55"/>
<polygon points="341.5,355.32 335.5,345.6 347.5,345.6" fill="none" stroke="#ff0000" stroke-width="1.55"/>
<polygon points="367,356.72 361,347 373,347" fill="none" stroke="#ff0000" stroke-width="1.55"/>
<polygon points="395.8,358.02 389.8,348.3 401.8,348.3" fill="none" stroke="#ff0000" stroke-width="1.55"/>
<polygon points="428.3,360.52 422.3,350.8 434.3,350.8" fill="none" stroke="#ff0000" stroke-width="1.55"/>
<polygon points="465.5,363.32 459.5,353.6 471.5,353.6" fill="none" stroke="#ff0000" stroke-width="1.55"/>
<polygon points="507.6,366.72 501.6,357 513.6,357" fill="none" stroke="#ff0000" stroke-width="1.55"/>
<polygon points="555.8,370.92 549.8,361.2 561.8,361.2" fill="none" stroke="#ff0000" stroke-width="1.55"/>
<polygon points="612.5,377.22 606.5,367.5 618.5,367.5" fill="none" stroke="#ff0000" stroke-width="1.55"/>
<polygon points="678.8,383.92 672.8,374.2 684.8,374.2" fill="none" stroke="#ff0000" stroke-width="1.55"/>
<polygon points="758.8,390.82 752.8,381.1 764.8,381.1" fill="none" stroke="#ff0000" stroke-width="1.55"/>
</g>
<g><polyline points="116.7,386.3 120.9,388.2 126.3,389.5 131.7,389 137.4,387.7 143.4,384.8 149.45,381.8 155.6,378.4 162.3,373.8 170.4,367.2 178.4,359.4 187.5,352 197.3,348.6 208.7,346.5 221,347.6 234,349.4 247.8,351 263.4,352.6 279.7,354.6 298.9,356.1 319.2,358 341.5,360 367,362 395.8,364 428.3,367.5 465.5,370.2 507.6,373.6 555.8,377.7 612.5,381.5 678.8,386.7 758.8,392.2 802.5,394.5" fill="none" stroke="#00ff00" stroke-width="1.55" clip-path="url(#cp)"/>
<polygon points="116.7,393.02 110.7,383.3 122.7,383.3" fill="#00ff00"/>
<polygon points="120.9,394.92 114.9,385.2 126.9,385.2" fill="#00ff00"/>
<polygon points="126.3,396.22 120.3,386.5 132.3,386.5" fill="#00ff00"/>
<polygon points="131.7,395.72 125.7,386 137.7,386" fill="#00ff00"/>
<polygon points="137.4,394.42 131.4,384.7 143.4,384.7" fill="#00ff00"/>
<polygon points="143.4,391.52 137.4,381.8 149.4,381.8" fill="#00ff00"/>
<polygon points="149.45,388.52 143.45,378.8 155.45,378.8" fill="#00ff00"/>
<polygon points="155.6,385.12 149.6,375.4 161.6,375.4" fill="#00ff00"/>
<polygon points="162.3,380.52 156.3,370.8 168.3,370.8" fill="#00ff00"/>
<polygon points="170.4,373.92 164.4,364.2 176.4,364.2" fill="#00ff00"/>
<polygon points="178.4,366.12 172.4,356.4 184.4,356.4" fill="#00ff00"/>
<polygon points="187.5,358.72 181.5,349 193.5,349" fill="#00ff00"/>
<polygon points="197.3,355.32 191.3,345.6 203.3,345.6" fill="#00ff00"/>
<polygon points="208.7,353.22 202.7,343.5 214.7,343.5" fill="#00ff00"/>
<polygon points="221,354.32 215,344.6 227,344.6" fill="#00ff00"/>
<polygon points="234,356.12 228,346.4 240,346.4" fill="#00ff00"/>
<polygon points="247.8,357.72 241.8,348 253.8,348" fill="#00ff00"/>
<polygon points="263.4,359.32 257.4,349.6 269.4,349.6" fill="#00ff00"/>
<polygon points="279.7,361.32 273.7,351.6 285.7,351.6" fill="#00ff00"/>
<polygon points="298.9,362.82 292.9,353.1 304.9,353.1" fill="#00ff00"/>
<polygon points="319.2,364.72 313.2,355 325.2,355" fill="#00ff00"/>
<polygon points="341.5,366.72 335.5,357 347.5,357" fill="#00ff00"/>
<polygon points="367,368.72 361,359 373,359" fill="#00ff00"/>
<polygon points="395.8,370.72 389.8,361 401.8,361" fill="#00ff00"/>
<polygon points="428.3,374.22 422.3,364.5 434.3,364.5" fill="#00ff00"/>
<polygon points="465.5,376.92 459.5,367.2 471.5,367.2" fill="#00ff00"/>
<polygon points="507.6,380.32 501.6,370.6 513.6,370.6" fill="#00ff00"/>
<polygon points="555.8,384.42 549.8,374.7 561.8,374.7" fill="#00ff00"/>
<polygon points="612.5,388.22 606.5,378.5 618.5,378.5" fill="#00ff00"/>
<polygon points="678.8,393.42 672.8,383.7 684.8,383.7" fill="#00ff00"/>
<polygon points="758.8,398.92 752.8,389.2 764.8,389.2" fill="#00ff00"/>
</g>
<g><polyline points="116.7,397.5 120.9,398.3 126.3,398.7 131.7,399 137.4,399.3 143.4,398.7 149.45,397.6 155.6,396.4 162.3,393.9 170.4,390.8 178.4,387.4 187.5,382.9 197.3,375.9 208.7,365.9 221,359.4 234,357 247.8,357 263.4,357.6 279.7,358.4 298.9,360.5 319.2,362 341.5,364.3 367,367 395.8,369.5 428.3,374.6 465.5,377.6 507.6,381 555.8,384.8 612.5,389.7 678.8,393.9 758.8,399.4 802.5,401.4" fill="none" stroke="#0000ff" stroke-width="1.55" clip-path="url(#cp)"/>
<polygon points="116.7,391.5 110.7,397.5 116.7,403.5 122.7,397.5" fill="none" stroke="#0000ff" stroke-width="1.55"/>
<polygon points="120.9,392.3 114.9,398.3 120.9,404.3 126.9,398.3" fill="none" stroke="#0000ff" stroke-width="1.55"/>
<polygon points="126.3,392.7 120.3,398.7 126.3,404.7 132.3,398.7" fill="none" stroke="#0000ff" stroke-width="1.55"/>
<polygon points="131.7,393 125.7,399 131.7,405 137.7,399" fill="none" stroke="#0000ff" stroke-width="1.55"/>
<polygon points="137.4,393.3 131.4,399.3 137.4,405.3 143.4,399.3" fill="none" stroke="#0000ff" stroke-width="1.55"/>
<polygon points="143.4,392.7 137.4,398.7 143.4,404.7 149.4,398.7" fill="none" stroke="#0000ff" stroke-width="1.55"/>
<polygon points="149.45,391.6 143.45,397.6 149.45,403.6 155.45,397.6" fill="none" stroke="#0000ff" stroke-width="1.55"/>
<polygon points="155.6,390.4 149.6,396.4 155.6,402.4 161.6,396.4" fill="none" stroke="#0000ff" stroke-width="1.55"/>
<polygon points="162.3,387.9 156.3,393.9 162.3,399.9 168.3,393.9" fill="none" stroke="#0000ff" stroke-width="1.55"/>
<polygon points="170.4,384.8 164.4,390.8 170.4,396.8 176.4,390.8" fill="none" stroke="#0000ff" stroke-width="1.55"/>
<polygon points="178.4,381.4 172.4,387.4 178.4,393.4 184.4,387.4" fill="none" stroke="#0000ff" stroke-width="1.55"/>
<polygon points="187.5,376.9 181.5,382.9 187.5,388.9 193.5,382.9" fill="none" stroke="#0000ff" stroke-width="1.55"/>
<polygon points="197.3,369.9 191.3,375.9 197.3,381.9 203.3,375.9" fill="none" stroke="#0000ff" stroke-width="1.55"/>
<polygon points="208.7,359.9 202.7,365.9 208.7,371.9 214.7,365.9" fill="none" stroke="#0000ff" stroke-width="1.55"/>
<polygon points="221,353.4 215,359.4 221,365.4 227,359.4" fill="none" stroke="#0000ff" stroke-width="1.55"/>
<polygon points="234,351 228,357 234,363 240,357" fill="none" stroke="#0000ff" stroke-width="1.55"/>
<polygon points="247.8,351 241.8,357 247.8,363 253.8,357" fill="none" stroke="#0000ff" stroke-width="1.55"/>
<polygon points="263.4,351.6 257.4,357.6 263.4,363.6 269.4,357.6" fill="none" stroke="#0000ff" stroke-width="1.55"/>
<polygon points="279.7,352.4 273.7,358.4 279.7,364.4 285.7,358.4" fill="none" stroke="#0000ff" stroke-width="1.55"/>
<polygon points="298.9,354.5 292.9,360.5 298.9,366.5 304.9,360.5" fill="none" stroke="#0000ff" stroke-width="1.55"/>
<polygon points="319.2,356 313.2,362 319.2,368 325.2,362" fill="none" stroke="#0000ff" stroke-width="1.55"/>
<polygon points="341.5,358.3 335.5,364.3 341.5,370.3 347.5,364.3" fill="none" stroke="#0000ff" stroke-width="1.55"/>
<polygon points="367,361 361,367 367,373 373,367" fill="none" stroke="#0000ff" stroke-width="1.55"/>
<polygon points="395.8,363.5 389.8,369.5 395.8,375.5 401.8,369.5" fill="none" stroke="#0000ff" stroke-width="1.55"/>
<polygon points="428.3,368.6 422.3,374.6 428.3,380.6 434.3,374.6" fill="none" stroke="#0000ff" stroke-width="1.55"/>
<polygon points="465.5,371.6 459.5,377.6 465.5,383.6 471.5,377.6" fill="none" stroke="#0000ff" stroke-width="1.55"/>
<polygon points="507.6,375 501.6,381 507.6,387 513.6,381" fill="none" stroke="#0000ff" stroke-width="1.55"/>
<polygon points="555.8,378.8 549.8,384.8 555.8,390.8 561.8,384.8" fill="none" stroke="#0000ff" stroke-width="1.55"/>
<polygon points="612.5,383.7 606.5,389.7 612.5,395.7 618.5,389.7" fill="none" stroke="#0000ff" stroke-width="1.55"/>
<polygon points="678.8,387.9 672.8,393.9 678.8,399.9 684.8,393.9" fill="none" stroke="#0000ff" stroke-width="1.55"/>
<polygon points="758.8,393.4 752.8,399.4 758.8,405.4 764.8,399.4" fill="none" stroke="#0000ff" stroke-width="1.55"/>
</g>
<g><polyline points="116.7,402.5 120.9,403.1 126.3,403.5 131.7,403.7 137.4,403.9 143.4,403.9 149.45,403.4 155.6,402.5 162.3,401.7 170.4,400.8 178.4,399.8 187.5,397.5 197.3,394.5 208.7,390.4 221,384.9 234,376 247.8,369.4 263.4,366.4 279.7,365.9 298.9,366.7 319.2,368.3 341.5,370.3 367,372.3 395.8,374.3 428.3,378.9 465.5,382.7 507.6,386.9 555.8,390.4 612.5,395 678.8,399.8 758.8,404.7 802.5,406.9" fill="none" stroke="#ff00ff" stroke-width="1.55" clip-path="url(#cp)"/>
<polygon points="116.7,396.5 110.7,402.5 116.7,408.5 122.7,402.5" fill="#ff00ff"/>
<polygon points="120.9,397.1 114.9,403.1 120.9,409.1 126.9,403.1" fill="#ff00ff"/>
<polygon points="126.3,397.5 120.3,403.5 126.3,409.5 132.3,403.5" fill="#ff00ff"/>
<polygon points="131.7,397.7 125.7,403.7 131.7,409.7 137.7,403.7" fill="#ff00ff"/>
<polygon points="137.4,397.9 131.4,403.9 137.4,409.9 143.4,403.9" fill="#ff00ff"/>
<polygon points="143.4,397.9 137.4,403.9 143.4,409.9 149.4,403.9" fill="#ff00ff"/>
<polygon points="149.45,397.4 143.45,403.4 149.45,409.4 155.45,403.4" fill="#ff00ff"/>
<polygon points="155.6,396.5 149.6,402.5 155.6,408.5 161.6,402.5" fill="#ff00ff"/>
<polygon points="162.3,395.7 156.3,401.7 162.3,407.7 168.3,401.7" fill="#ff00ff"/>
<polygon points="170.4,394.8 164.4,400.8 170.4,406.8 176.4,400.8" fill="#ff00ff"/>
<polygon points="178.4,393.8 172.4,399.8 178.4,405.8 184.4,399.8" fill="#ff00ff"/>
<polygon points="187.5,391.5 181.5,397.5 187.5,403.5 193.5,397.5" fill="#ff00ff"/>
<polygon points="197.3,388.5 191.3,394.5 197.3,400.5 203.3,394.5" fill="#ff00ff"/>
<polygon points="208.7,384.4 202.7,390.4 208.7,396.4 214.7,390.4" fill="#ff00ff"/>
<polygon points="221,378.9 215,384.9 221,390.9 227,384.9" fill="#ff00ff"/>
<polygon points="234,370 228,376 234,382 240,376" fill="#ff00ff"/>
<polygon points="247.8,363.4 241.8,369.4 247.8,375.4 253.8,369.4" fill="#ff00ff"/>
<polygon points="263.4,360.4 257.4,366.4 263.4,372.4 269.4,366.4" fill="#ff00ff"/>
<polygon points="279.7,359.9 273.7,365.9 279.7,371.9 285.7,365.9" fill="#ff00ff"/>
<polygon points="298.9,360.7 292.9,366.7 298.9,372.7 304.9,366.7" fill="#ff00ff"/>
<polygon points="319.2,362.3 313.2,368.3 319.2,374.3 325.2,368.3" fill="#ff00ff"/>
<polygon points="341.5,364.3 335.5,370.3 341.5,376.3 347.5,370.3" fill="#ff00ff"/>
<polygon points="367,366.3 361,372.3 367,378.3 373,372.3" fill="#ff00ff"/>
<polygon points="395.8,368.3 389.8,374.3 395.8,380.3 401.8,374.3" fill="#ff00ff"/>
<polygon points="428.3,372.9 422.3,378.9 428.3,384.9 434.3,378.9" fill="#ff00ff"/>
<polygon points="465.5,376.7 459.5,382.7 465.5,388.7 471.5,382.7" fill="#ff00ff"/>
<polygon points="507.6,380.9 501.6,386.9 507.6,392.9 513.6,386.9" fill="#ff00ff"/>
<polygon points="555.8,384.4 549.8,390.4 555.8,396.4 561.8,390.4" fill="#ff00ff"/>
<polygon points="612.5,389 606.5,395 612.5,401 618.5,395" fill="#ff00ff"/>
<polygon points="678.8,393.8 672.8,399.8 678.8,405.8 684.8,399.8" fill="#ff00ff"/>
<polygon points="758.8,398.7 752.8,404.7 758.8,410.7 764.8,404.7" fill="#ff00ff"/>
</g>
<g><polyline points="116.7,416.8 120.9,417 126.3,417.1 131.7,417.2 137.4,417 143.4,416.9 149.45,416.5 155.6,416 162.3,415.7 170.4,415.1 178.4,414.5 187.5,413.4 197.3,411.6 208.7,409.6 221,407.1 234,403.9 247.8,397 263.4,386.6 279.7,377 298.9,373.9 319.2,373 341.5,373.5 367,375 395.8,377 428.3,381.3 465.5,385.5 507.6,389.6 555.8,393.5 612.5,398.7 678.8,403.7 758.8,408.6 802.5,411.8" fill="none" stroke="#00ffff" stroke-width="1.55" clip-path="url(#cp)"/>
<polygon points="116.7,410.8 122.41,414.95 120.23,421.65 113.17,421.65 110.99,414.95" fill="none" stroke="#00ffff" stroke-width="1.55"/>
<polygon points="120.9,411 126.61,415.15 124.43,421.85 117.37,421.85 115.19,415.15" fill="none" stroke="#00ffff" stroke-width="1.55"/>
<polygon points="126.3,411.1 132.01,415.25 129.83,421.95 122.77,421.95 120.59,415.25" fill="none" stroke="#00ffff" stroke-width="1.55"/>
<polygon points="131.7,411.2 137.41,415.35 135.23,422.05 128.17,422.05 125.99,415.35" fill="none" stroke="#00ffff" stroke-width="1.55"/>
<polygon points="137.4,411 143.11,415.15 140.93,421.85 133.87,421.85 131.69,415.15" fill="none" stroke="#00ffff" stroke-width="1.55"/>
<polygon points="143.4,410.9 149.11,415.05 146.93,421.75 139.87,421.75 137.69,415.05" fill="none" stroke="#00ffff" stroke-width="1.55"/>
<polygon points="149.45,410.5 155.16,414.65 152.98,421.35 145.92,421.35 143.74,414.65" fill="none" stroke="#00ffff" stroke-width="1.55"/>
<polygon points="155.6,410 161.31,414.15 159.13,420.85 152.07,420.85 149.89,414.15" fill="none" stroke="#00ffff" stroke-width="1.55"/>
<polygon points="162.3,409.7 168.01,413.85 165.83,420.55 158.77,420.55 156.59,413.85" fill="none" stroke="#00ffff" stroke-width="1.55"/>
<polygon points="170.4,409.1 176.11,413.25 173.93,419.95 166.87,419.95 164.69,413.25" fill="none" stroke="#00ffff" stroke-width="1.55"/>
<polygon points="178.4,408.5 184.11,412.65 181.93,419.35 174.87,419.35 172.69,412.65" fill="none" stroke="#00ffff" stroke-width="1.55"/>
<polygon points="187.5,407.4 193.21,411.55 191.03,418.25 183.97,418.25 181.79,411.55" fill="none" stroke="#00ffff" stroke-width="1.55"/>
<polygon points="197.3,405.6 203.01,409.75 200.83,416.45 193.77,416.45 191.59,409.75" fill="none" stroke="#00ffff" stroke-width="1.55"/>
<polygon points="208.7,403.6 214.41,407.75 212.23,414.45 205.17,414.45 202.99,407.75" fill="none" stroke="#00ffff" stroke-width="1.55"/>
<polygon points="221,401.1 226.71,405.25 224.53,411.95 217.47,411.95 215.29,405.25" fill="none" stroke="#00ffff" stroke-width="1.55"/>
<polygon points="234,397.9 239.71,402.05 237.53,408.75 230.47,408.75 228.29,402.05" fill="none" stroke="#00ffff" stroke-width="1.55"/>
<polygon points="247.8,391 253.51,395.15 251.33,401.85 244.27,401.85 242.09,395.15" fill="none" stroke="#00ffff" stroke-width="1.55"/>
<polygon points="263.4,380.6 269.11,384.75 266.93,391.45 259.87,391.45 257.69,384.75" fill="none" stroke="#00ffff" stroke-width="1.55"/>
<polygon points="279.7,371 285.41,375.15 283.23,381.85 276.17,381.85 273.99,375.15" fill="none" stroke="#00ffff" stroke-width="1.55"/>
<polygon points="298.9,367.9 304.61,372.05 302.43,378.75 295.37,378.75 293.19,372.05" fill="none" stroke="#00ffff" stroke-width="1.55"/>
<polygon points="319.2,367 324.91,371.15 322.73,377.85 315.67,377.85 313.49,371.15" fill="none" stroke="#00ffff" stroke-width="1.55"/>
<polygon points="341.5,367.5 347.21,371.65 345.03,378.35 337.97,378.35 335.79,371.65" fill="none" stroke="#00ffff" stroke-width="1.55"/>
<polygon points="367,369 372.71,373.15 370.53,379.85 363.47,379.85 361.29,373.15" fill="none" stroke="#00ffff" stroke-width="1.55"/>
<polygon points="395.8,371 401.51,375.15 399.33,381.85 392.27,381.85 390.09,375.15" fill="none" stroke="#00ffff" stroke-width="1.55"/>
<polygon points="428.3,375.3 434.01,379.45 431.83,386.15 424.77,386.15 422.59,379.45" fill="none" stroke="#00ffff" stroke-width="1.55"/>
<polygon points="465.5,379.5 471.21,383.65 469.03,390.35 461.97,390.35 459.79,383.65" fill="none" stroke="#00ffff" stroke-width="1.55"/>
<polygon points="507.6,383.6 513.31,387.75 511.13,394.45 504.07,394.45 501.89,387.75" fill="none" stroke="#00ffff" stroke-width="1.55"/>
<polygon points="555.8,387.5 561.51,391.65 559.33,398.35 552.27,398.35 550.09,391.65" fill="none" stroke="#00ffff" stroke-width="1.55"/>
<polygon points="612.5,392.7 618.21,396.85 616.03,403.55 608.97,403.55 606.79,396.85" fill="none" stroke="#00ffff" stroke-width="1.55"/>
<polygon points="678.8,397.7 684.51,401.85 682.33,408.55 675.27,408.55 673.09,401.85" fill="none" stroke="#00ffff" stroke-width="1.55"/>
<polygon points="758.8,402.6 764.51,406.75 762.33,413.45 755.27,413.45 753.09,406.75" fill="none" stroke="#00ffff" stroke-width="1.55"/>
</g>
<g><polyline points="116.7,437.2 120.9,436.3 126.3,435.3 131.7,434.4 137.4,433.6 143.4,432.4 149.45,431.5 155.6,430.6 162.3,429.6 170.4,428.5 178.4,427.5 187.5,425.6 197.3,424.7 208.7,423.9 221,423.5 234,422 247.8,419.7 263.4,415.7 279.7,407.8 298.9,395.2 319.2,384.5 341.5,381 367,381 395.8,383 428.3,386.5 465.5,389.6 507.6,394.1 555.8,398.6 612.5,403.7 678.8,408.6 758.8,413.5 802.5,415.8" fill="none" stroke="#ffa500" stroke-width="1.55" clip-path="url(#cp)"/>
<polygon points="116.7,431.2 122.41,435.35 120.23,442.05 113.17,442.05 110.99,435.35" fill="#ffa500"/>
<polygon points="120.9,430.3 126.61,434.45 124.43,441.15 117.37,441.15 115.19,434.45" fill="#ffa500"/>
<polygon points="126.3,429.3 132.01,433.45 129.83,440.15 122.77,440.15 120.59,433.45" fill="#ffa500"/>
<polygon points="131.7,428.4 137.41,432.55 135.23,439.25 128.17,439.25 125.99,432.55" fill="#ffa500"/>
<polygon points="137.4,427.6 143.11,431.75 140.93,438.45 133.87,438.45 131.69,431.75" fill="#ffa500"/>
<polygon points="143.4,426.4 149.11,430.55 146.93,437.25 139.87,437.25 137.69,430.55" fill="#ffa500"/>
<polygon points="149.45,425.5 155.16,429.65 152.98,436.35 145.92,436.35 143.74,429.65" fill="#ffa500"/>
<polygon points="155.6,424.6 161.31,428.75 159.13,435.45 152.07,435.45 149.89,428.75" fill="#ffa500"/>
<polygon points="162.3,423.6 168.01,427.75 165.83,434.45 158.77,434.45 156.59,427.75" fill="#ffa500"/>
<polygon points="170.4,422.5 176.11,426.65 173.93,433.35 166.87,433.35 164.69,426.65" fill="#ffa500"/>
<polygon points="178.4,421.5 184.11,425.65 181.93,432.35 174.87,432.35 172.69,425.65" fill="#ffa500"/>
<polygon points="187.5,419.6 193.21,423.75 191.03,430.45 183.97,430.45 181.79,423.75" fill="#ffa500"/>
<polygon points="197.3,418.7 203.01,422.85 200.83,429.55 193.77,429.55 191.59,422.85" fill="#ffa500"/>
<polygon points="208.7,417.9 214.41,422.05 212.23,428.75 205.17,428.75 202.99,422.05" fill="#ffa500"/>
<polygon points="221,417.5 226.71,421.65 224.53,428.35 217.47,428.35 215.29,421.65" fill="#ffa500"/>
<polygon points="234,416 239.71,420.15 237.53,426.85 230.47,426.85 228.29,420.15" fill="#ffa500"/>
<polygon points="247.8,413.7 253.51,417.85 251.33,424.55 244.27,424.55 242.09,417.85" fill="#ffa500"/>
<polygon points="263.4,409.7 269.11,413.85 266.93,420.55 259.87,420.55 257.69,413.85" fill="#ffa500"/>
<polygon points="279.7,401.8 285.41,405.95 283.23,412.65 276.17,412.65 273.99,405.95" fill="#ffa500"/>
<polygon points="298.9,389.2 304.61,393.35 302.43,400.05 295.37,400.05 293.19,393.35" fill="#ffa500"/>
<polygon points="319.2,378.5 324.91,382.65 322.73,389.35 315.67,389.35 313.49,382.65" fill="#ffa500"/>
<polygon points="341.5,375 347.21,379.15 345.03,385.85 337.97,385.85 335.79,379.15" fill="#ffa500"/>
<polygon points="367,375 372.71,379.15 370.53,385.85 363.47,385.85 361.29,379.15" fill="#ffa500"/>
<polygon points="395.8,377 401.51,381.15 399.33,387.85 392.27,387.85 390.09,381.15" fill="#ffa500"/>
<polygon points="428.3,380.5 434.01,384.65 431.83,391.35 424.77,391.35 422.59,384.65" fill="#ffa500"/>
<polygon points="465.5,383.6 471.21,387.75 469.03,394.45 461.97,394.45 459.79,387.75" fill="#ffa500"/>
<polygon points="507.6,388.1 513.31,392.25 511.13,398.95 504.07,398.95 501.89,392.25" fill="#ffa500"/>
<polygon points="555.8,392.6 561.51,396.75 559.33,403.45 552.27,403.45 550.09,396.75" fill="#ffa500"/>
<polygon points="612.5,397.7 618.21,401.85 616.03,408.55 608.97,408.55 606.79,401.85" fill="#ffa500"/>
<polygon points="678.8,402.6 684.51,406.75 682.33,413.45 675.27,413.45 673.09,406.75" fill="#ffa500"/>
<polygon points="758.8,407.5 764.51,411.65 762.33,418.35 755.27,418.35 753.09,411.65" fill="#ffa500"/>
</g>
<rect x="114.2" y="17.6" width="688.3" height="439.8" fill="none" stroke="#000" stroke-width="3.1"/>
<path d="M303.5 45.7H336.7" stroke="#ff0000" stroke-width="1.55"/>
<path d="M314.1 45.7H326.1M320.1 39.7V51.7" stroke="#ff0000" stroke-width="1.55" fill="none"/>
<text x="240.6" y="53.5" font-size="30.5" letter-spacing="1.9">0.1</text>
<path d="M303.5 78.8H336.7" stroke="#00ff00" stroke-width="1.55"/>
<path d="M314.1 72.8L326.1 84.8M314.1 84.8L326.1 72.8" stroke="#00ff00" stroke-width="1.55" fill="none"/>
<text x="240.6" y="86.6" font-size="30.5" letter-spacing="1.9">0.2</text>
<path d="M303.5 111.9H336.7" stroke="#0000ff" stroke-width="1.55"/>
<path d="M314.1 111.9H326.1M320.1 105.9V117.9M314.1 105.9L326.1 117.9M314.1 117.9L326.1 105.9" stroke="#0000ff" stroke-width="1.55" fill="none"/>
<text x="240.6" y="119.7" font-size="30.5" letter-spacing="1.9">0.3</text>
<path d="M410.2 45.7H443.4" stroke="#ff00ff" stroke-width="1.55"/>
<rect x="420.8" y="39.7" width="12" height="12" fill="none" stroke="#ff00ff" stroke-width="1.55"/>
<text x="347.2" y="53.5" font-size="30.5" letter-spacing="1.9">0.4</text>
<path d="M410.2 78.8H443.4" stroke="#00ffff" stroke-width="1.55"/>
<rect x="420.8" y="72.8" width="12" height="12" fill="#00ffff" />
<text x="347.2" y="86.6" font-size="30.5" letter-spacing="1.9">0.5</text>
<path d="M410.2 111.9H443.4" stroke="#ffa500" stroke-width="1.55"/>
<circle cx="426.8" cy="111.9" r="6" fill="none" stroke="#ffa500" stroke-width="1.55"/>
<text x="347.2" y="119.7" font-size="30.5" letter-spacing="1.9">0.6</text>
<path d="M516.7 45.7H549.9" stroke="#000000" stroke-width="1.55"/>
<circle cx="533.3" cy="45.7" r="6" fill="#000000" />
<text x="453.8" y="53.5" font-size="30.5" letter-spacing="1.9">0.7</text>
<path d="M516.7 78.8H549.9" stroke="#ff4500" stroke-width="1.55"/>
<polygon points="533.3,72.08 527.3,81.8 539.3,81.8" fill="none" stroke="#ff4500" stroke-width="1.55"/>
<text x="453.8" y="86.6" font-size="30.5" letter-spacing="1.9">0.8</text>
<path d="M516.7 111.9H549.9" stroke="#808080" stroke-width="1.55"/>
<polygon points="533.3,105.18 527.3,114.9 539.3,114.9" fill="#808080"/>
<text x="453.8" y="119.7" font-size="30.5" letter-spacing="1.9">0.9</text>
<path d="M623 45.7H656.2" stroke="#ff0000" stroke-width="1.55"/>
<polygon points="639.6,52.42 633.6,42.7 645.6,42.7" fill="none" stroke="#ff0000" stroke-width="1.55"/>
<text x="560.4" y="53.5" font-size="30.5" letter-spacing="1.9">1.0</text>
<path d="M623 78.8H656.2" stroke="#00ff00" stroke-width="1.55"/>
<polygon points="639.6,85.52 633.6,75.8 645.6,75.8" fill="#00ff00"/>
<text x="560.4" y="86.6" font-size="30.5" letter-spacing="1.9">1.1</text>
<path d="M623 111.9H656.2" stroke="#0000ff" stroke-width="1.55"/>
<polygon points="639.6,105.9 633.6,111.9 639.6,117.9 645.6,111.9" fill="none" stroke="#0000ff" stroke-width="1.55"/>
<text x="560.4" y="119.7" font-size="30.5" letter-spacing="1.9">1.2</text>
<path d="M729.7 45.7H762.9" stroke="#ff00ff" stroke-width="1.55"/>
<polygon points="746.3,39.7 740.3,45.7 746.3,51.7 752.3,45.7" fill="#ff00ff"/>
<text x="667" y="53.5" font-size="30.5" letter-spacing="1.9">1.3</text>
<path d="M729.7 78.8H762.9" stroke="#00ffff" stroke-width="1.55"/>
<polygon points="746.3,72.8 752.01,76.95 749.83,83.65 742.77,83.65 740.59,76.95" fill="none" stroke="#00ffff" stroke-width="1.55"/>
<text x="667" y="86.6" font-size="30.5" letter-spacing="1.9">1.4</text>
<path d="M729.7 111.9H762.9" stroke="#ffa500" stroke-width="1.55"/>
<polygon points="746.3,105.9 752.01,110.05 749.83,116.75 742.77,116.75 740.59,110.05" fill="#ffa500"/>
<text x="667" y="119.7" font-size="30.5" letter-spacing="1.9">1.5</text>
<text x="143.5" y="53.5" font-size="30.5" font-style="italic">ϵ</text>
<text x="157.6" y="57.6" font-size="24" textLength="35.6" lengthAdjust="spacingAndGlyphs">pm</text>
<path d="M207 42.5H229.4M207 48.7H229.4" stroke="#000" stroke-width="1.25"/>
<text x="93.5" y="465.2" font-size="30.5" text-anchor="end">1</text>
<text x="93.5" y="318.6" font-size="30.5" text-anchor="end">2</text>
<text x="93.5" y="172" font-size="30.5" text-anchor="end">3</text>
<text x="93.5" y="25.4" font-size="30.5" text-anchor="end">4</text>
<text x="98.3" y="498" font-size="30.5" letter-spacing="1.9">0.1</text>
<text x="184.34" y="498" font-size="30.5" letter-spacing="1.9">0.2</text>
<text x="270.38" y="498" font-size="30.5" letter-spacing="1.9">0.3</text>
<text x="356.41" y="498" font-size="30.5" letter-spacing="1.9">0.4</text>
<text x="442.45" y="498" font-size="30.5" letter-spacing="1.9">0.5</text>
<text x="528.49" y="498" font-size="30.5" letter-spacing="1.9">0.6</text>
<text x="614.52" y="498" font-size="30.5" letter-spacing="1.9">0.7</text>
<text x="700.56" y="498" font-size="30.5" letter-spacing="1.9">0.8</text>
<text x="786.6" y="498" font-size="30.5" letter-spacing="1.9">0.9</text>
<g transform="translate(447.3,547)"><path d="M2.5 -20.6H22.6M3.6 -0.5H14.6" stroke="#000" stroke-width="1.1" fill="none"/><path d="M2.6 -20.6L1.4 -13.8M22.5 -20.6L21.3 -13.8" stroke="#000" stroke-width="0.9" fill="none"/><path d="M13.7 -20.6L8.8 -0.6" stroke="#000" stroke-width="2.2" fill="none"/></g>
<g transform="translate(0,297.5) rotate(-90)"><path d="M6.5 2L0.3 18.2L6.5 34.4M62.8 2L69 18.2L62.8 34.4" stroke="#000" stroke-width="1.25" fill="none"/><path d="M84.6 1.9Q70.6 18.2 84.6 34.5Q74.4 18.2 84.6 1.9ZM114.4 1.9Q128.8 18.2 114.4 34.5Q125 18.2 114.4 1.9Z" fill="#000" stroke="#000" stroke-width="0.5"/><text x="9.8" y="26.9" font-size="31" font-style="italic">n</text><text transform="translate(28,29.8) scale(1.14,1)" font-size="24" letter-spacing="1.6">pp</text><g transform="translate(87.3,26.9)"><path d="M2.5 -20.6H22.6M3.6 -0.5H14.6" stroke="#000" stroke-width="1.1" fill="none"/><path d="M2.6 -20.6L1.4 -13.8M22.5 -20.6L21.3 -13.8" stroke="#000" stroke-width="0.9" fill="none"/><path d="M13.7 -20.6L8.8 -0.6" stroke="#000" stroke-width="2.2" fill="none"/></g></g>
</svg>
</body></html>
